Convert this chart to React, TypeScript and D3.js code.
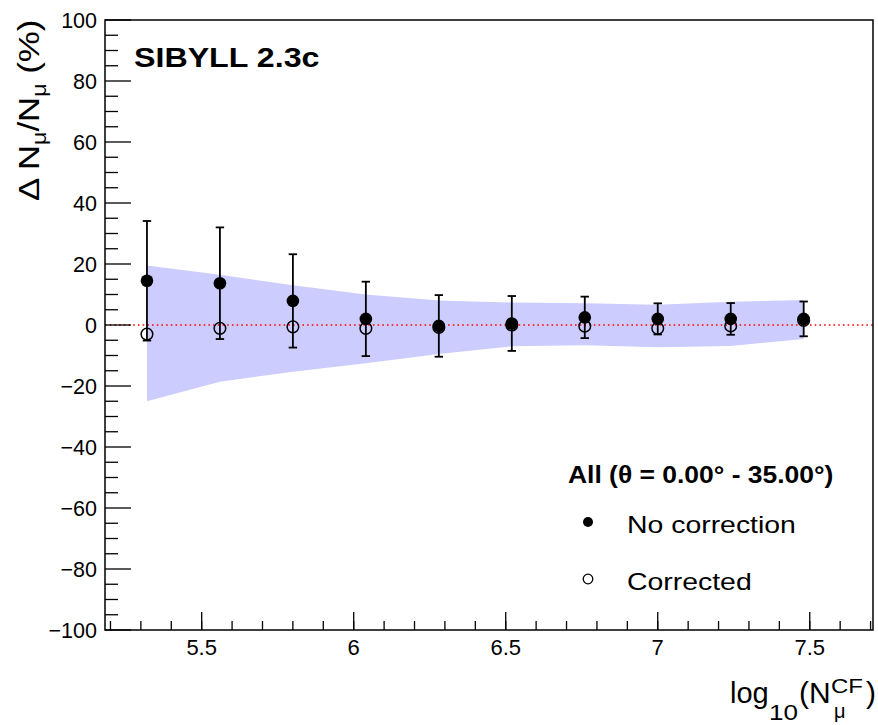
import React from "react";
import * as d3 from "d3";

// ---- data ----
const xValues = [5.32, 5.56, 5.8, 6.04, 6.28, 6.52, 6.76, 7.0, 7.24, 7.48];
const noCorrection = [14.5, 13.7, 7.9, 2.0, -0.3, 0.5, 2.5, 2.0, 2.0, 2.0];
const noCorrectionErr = [19.6, 18.3, 15.3, 12.2, 10.1, 9.0, 6.8, 5.1, 5.2, 5.7];
const corrected = [-3.0, -1.1, -0.6, -1.1, -0.8, 0.0, -0.4, -1.1, -0.3, 1.5];
const bandUpper = [19.5, 16.5, 13.0, 10.0, 8.0, 7.4, 7.1, 6.6, 7.6, 8.2];
const bandLower = [-25.0, -18.6, -15.3, -12.5, -9.5, -7.0, -6.6, -7.3, -6.9, -4.6];
const xMajorTicks = [5.5, 6, 6.5, 7, 7.5];
const xTickLabels = ["5.5", "6", "6.5", "7", "7.5"];
const yMajorTicks = [-100, -80, -60, -40, -20, 0, 20, 40, 60, 80, 100];
const yTickLabels = ["\u2212100", "\u221280", "\u221260", "\u221240", "\u221220", "0", "20", "40", "60", "80", "100"];
const modelLabel = "SIBYLL 2.3c";
const legendTitle = "All (\u03b8 = 0.00\u00b0 - 35.00\u00b0)";
const seriesNames = ["No correction", "Corrected"];

const W = 878;
const H = 725;
const FONT = "'Liberation Sans', Arial, Helvetica, sans-serif";

export default function App() {
  const x = d3.scaleLinear().domain([5.182, 7.708]).range([105, 873]);
  const y = d3.scaleLinear().domain([-100, 100]).range([630, 20]);
  const [x0, x1] = x.range();
  const [yb, yt] = y.range();

  const bandData = xValues.map((v, i) => ({ x: v, lo: bandLower[i], hi: bandUpper[i] }));
  const area = d3
    .area<{ x: number; lo: number; hi: number }>()
    .x((d) => x(d.x))
    .y0((d) => y(d.lo))
    .y1((d) => y(d.hi))
    .curve(d3.curveLinear);

  const xMinor = d3.range(52, 78).map((v) => v / 10).filter((v) => x(v) > x0 + 1 && x(v) < x1 - 1);
  const yMinor = d3.range(-100, 101, 5).filter((v) => v % 20 !== 0);

  return (
    <svg width={W} height={H} style={{ position: "absolute", left: 0, top: 0, background: "#fff" }} fontFamily={FONT}>
      <rect x={0} y={0} width={W} height={H} fill="#fff" />
      {/* band */}
      <path d={area(bandData) || ""} fill="rgb(204,204,255)" stroke="none" />
      {/* zero line */}
      <line x1={x0} x2={x1} y1={y(0)} y2={y(0)} stroke="#ff0000" strokeWidth={1.6} strokeDasharray="1.6,3.1" />
      {/* error bars no correction */}
      {xValues.map((v, i) => {
        const cx = x(v);
        const top = y(noCorrection[i] + noCorrectionErr[i]);
        const bot = y(noCorrection[i] - noCorrectionErr[i]);
        return (
          <g key={"e" + i} stroke="#000" strokeWidth={1.8}>
            <line x1={cx} x2={cx} y1={top} y2={bot} />
            <line x1={cx - 4.2} x2={cx + 4.2} y1={top} y2={top} />
            <line x1={cx - 4.2} x2={cx + 4.2} y1={bot} y2={bot} />
          </g>
        );
      })}
      {/* corrected markers (open) */}
      {xValues.map((v, i) => (
        <circle key={"c" + i} cx={x(v)} cy={y(corrected[i])} r={5.8} fill="none" stroke="#000" strokeWidth={1.5} />
      ))}
      {/* no correction markers (filled) */}
      {xValues.map((v, i) => (
        <circle key={"n" + i} cx={x(v)} cy={y(noCorrection[i])} r={6.3} fill="#000" />
      ))}
      {/* frame */}
      <rect x={x0} y={yt} width={x1 - x0} height={yb - yt} fill="none" stroke="#000" strokeWidth={1.5} />
      {/* y ticks */}
      {yMajorTicks.map((v) => (
        <line key={"ym" + v} x1={x0} x2={x0 + 26} y1={y(v)} y2={y(v)} stroke="#000" strokeWidth={1.3} />
      ))}
      {yMinor.map((v) => (
        <line key={"yn" + v} x1={x0} x2={x0 + 13} y1={y(v)} y2={y(v)} stroke="#000" strokeWidth={1.3} />
      ))}
      {yMajorTicks.map((v, i) => (
        <text key={"yl" + v} x={97} y={y(v) + 7.8} fontSize={21.5} textAnchor="end" fill="#000">
          {yTickLabels[i]}
        </text>
      ))}
      {/* x ticks */}
      {xMajorTicks.map((v) => (
        <line key={"xm" + v} x1={x(v)} x2={x(v)} y1={yb} y2={yb - 18} stroke="#000" strokeWidth={1.3} />
      ))}
      {xMinor.map((v) => (
        <line key={"xn" + v} x1={x(v)} x2={x(v)} y1={yb} y2={yb - 9} stroke="#000" strokeWidth={1.3} />
      ))}
      {xMajorTicks.map((v, i) => (
        <text key={"xl" + v} x={x(v)} y={655} fontSize={22} textAnchor="middle" fill="#000">
          {xTickLabels[i]}
        </text>
      ))}
      {/* x title */}
      <g fill="#000">
        <text x={730} y={703} fontSize={29}>log</text>
        <text x={769} y={720} fontSize={22} textLength={29} lengthAdjust="spacingAndGlyphs">10</text>
        <text x={799} y={703} fontSize={30}>(N</text>
        <text x={831} y={693} fontSize={20} textLength={32} lengthAdjust="spacingAndGlyphs">CF</text>
        <text x={834} y={718} fontSize={20}>{"\u03bc"}</text>
        <text x={866} y={703} fontSize={30}>)</text>
      </g>
      {/* y title */}
      <text transform="translate(39,201) rotate(-90) scale(1.16,1)" fontSize={30} fill="#000">
        <tspan>{"\u0394 N"}</tspan>
        <tspan fontSize={20} dy={7}>{"\u03bc"}</tspan>
        <tspan dy={-7}>/N</tspan>
        <tspan fontSize={20} dy={7}>{"\u03bc"}</tspan>
        <tspan dy={-7}>{" (%)"}</tspan>
      </text>
      {/* model label */}
      <text transform="translate(134,67) scale(1.15,1)" fontSize={28} fontWeight="bold" fill="#000">
        {modelLabel}
      </text>
      {/* legend */}
      <text transform="translate(568,483) scale(1.15,1)" fontSize={23} fontWeight="bold" fill="#000">
        {legendTitle}
      </text>
      <circle cx={588} cy={522} r={5} fill="#000" />
      <text transform="translate(627,533) scale(1.16,1)" fontSize={24.5} fill="#000">
        {seriesNames[0]}
      </text>
      <circle cx={588} cy={579} r={4.8} fill="none" stroke="#000" strokeWidth={1.3} />
      <text transform="translate(627,590) scale(1.16,1)" fontSize={24.5} fill="#000">
        {seriesNames[1]}
      </text>
    </svg>
  );
}
